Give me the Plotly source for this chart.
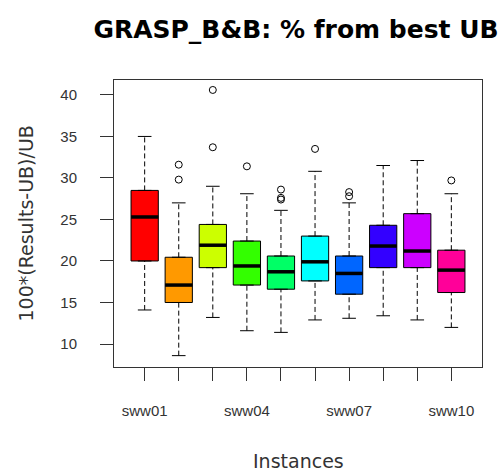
import plotly.graph_objects as go

instances = ["sww01", "sww02", "sww03", "sww04", "sww05",
             "sww06", "sww07", "sww08", "sww09", "sww10"]
shown_labels = ["sww01", "", "", "sww04", "", "", "sww07", "", "", "sww10"]
q1 = [20.0, 15.0, 19.2, 17.1, 16.6, 17.6, 16.0, 19.2, 19.2, 16.2]
median = [25.3, 17.1, 21.9, 19.4, 18.7, 19.9, 18.5, 21.8, 21.2, 18.9]
q3 = [28.5, 20.45, 24.4, 22.4, 20.6, 23.0, 20.6, 24.3, 25.7, 21.3]
whisker_low = [14.1, 8.6, 13.2, 11.6, 11.4, 12.9, 13.1, 13.4, 12.9, 12.0]
whisker_high = [35.0, 27.0, 29.0, 28.1, 26.1, 30.8, 27.0, 31.5, 32.1, 28.1]
outliers = [[], [31.6, 29.8], [40.6, 33.7], [31.4], [28.6, 27.6, 27.4],
            [33.5], [28.3, 27.8], [], [], [29.7]]
colors = ["#FF0000", "#FF9900", "#CCFF00", "#33FF00", "#00FF66",
          "#00FFFF", "#0066FF", "#3300FF", "#CC00FF", "#FF0099"]
y_ticks = [10, 15, 20, 25, 30, 35, 40]

BOXW = 0.8
CAPW = 0.4

W, H = 499, 473
L, R, T, B = 114, 17, 80, 106
PW, PH = W - L - R, H - T - B

fig = go.Figure()
positions = list(range(1, len(instances) + 1))

for i, pos in enumerate(positions):
    for a, b in ((whisker_low[i], q1[i]), (q3[i], whisker_high[i])):
        fig.add_trace(go.Scatter(
            x=[pos, pos], y=[a, b], mode="lines",
            line=dict(color="black", width=1, dash="5px,3px"),
            hoverinfo="skip", showlegend=False))
    for v in (whisker_low[i], whisker_high[i]):
        fig.add_trace(go.Scatter(
            x=[pos - CAPW / 2, pos + CAPW / 2], y=[v, v], mode="lines",
            line=dict(color="black", width=1),
            hoverinfo="skip", showlegend=False))
    fig.add_trace(go.Box(
        x=[pos], q1=[q1[i]], median=[median[i]], q3=[q3[i]],
        lowerfence=[q1[i]], upperfence=[q3[i]],
        width=BOXW, fillcolor=colors[i],
        line=dict(color="black", width=1),
        name=instances[i], showlegend=False, boxpoints=False))
    fig.add_trace(go.Scatter(
        x=[pos - BOXW / 2, pos + BOXW / 2], y=[median[i], median[i]],
        mode="lines", line=dict(color="black", width=3.5),
        hoverinfo="skip", showlegend=False))
    if outliers[i]:
        fig.add_trace(go.Scatter(
            x=[pos] * len(outliers[i]), y=outliers[i], mode="markers",
            marker=dict(symbol="circle-open", size=7, color="black",
                        line=dict(width=1)),
            showlegend=False))

fig.update_layout(
    template="none",
    width=W, height=H,
    margin=dict(l=L, r=R, t=T, b=B, autoexpand=False),
    paper_bgcolor="white", plot_bgcolor="white",
    boxmode="overlay",
    title=dict(text="<b>GRASP_B&B: % from best UB</b>",
               x=296 / W, xref="container", xanchor="center",
               y=1 - 29 / H, yref="container", yanchor="middle",
               font=dict(family="DejaVu Sans", size=25, color="black")),
    font=dict(family="Liberation Sans", color="#333"),
)

fig.update_xaxes(
    automargin=False,
    range=[0.1, 10.9], tickmode="array", tickvals=positions,
    ticktext=shown_labels, ticks="outside", ticklen=13, tickcolor="#333",
    tickfont=dict(size=15, color="#333"), ticklabelstandoff=17,
    showgrid=False, zeroline=False, showline=True, linecolor="#333",
    mirror=True, linewidth=1)
fig.update_yaxes(
    automargin=False,
    range=[7.23, 41.8], tickmode="array", tickvals=y_ticks,
    ticks="outside", ticklen=13, tickcolor="#333",
    tickfont=dict(size=15, color="#333"), ticklabelstandoff=20,
    showgrid=False, zeroline=False, showline=True, linecolor="#333",
    mirror=True, linewidth=1)

fig.add_annotation(text="Instances", xref="paper", yref="paper",
                   x=0.5, y=-(461 - 367) / PH, xanchor="center",
                   yanchor="middle", showarrow=False,
                   font=dict(family="DejaVu Sans", size=19, color="#333"))
fig.add_annotation(text="100*(Results-UB)/UB", xref="paper", yref="paper",
                   x=-(114 - 25) / PW, y=0.5, xanchor="center",
                   yanchor="middle", textangle=-90, showarrow=False,
                   font=dict(family="DejaVu Sans", size=19, color="#333"))

fig.write_html(
    "out.html",
    config={"displayModeBar": False},
    post_script="document.body.style.margin='0';"
                "document.body.style.overflow='hidden';")
